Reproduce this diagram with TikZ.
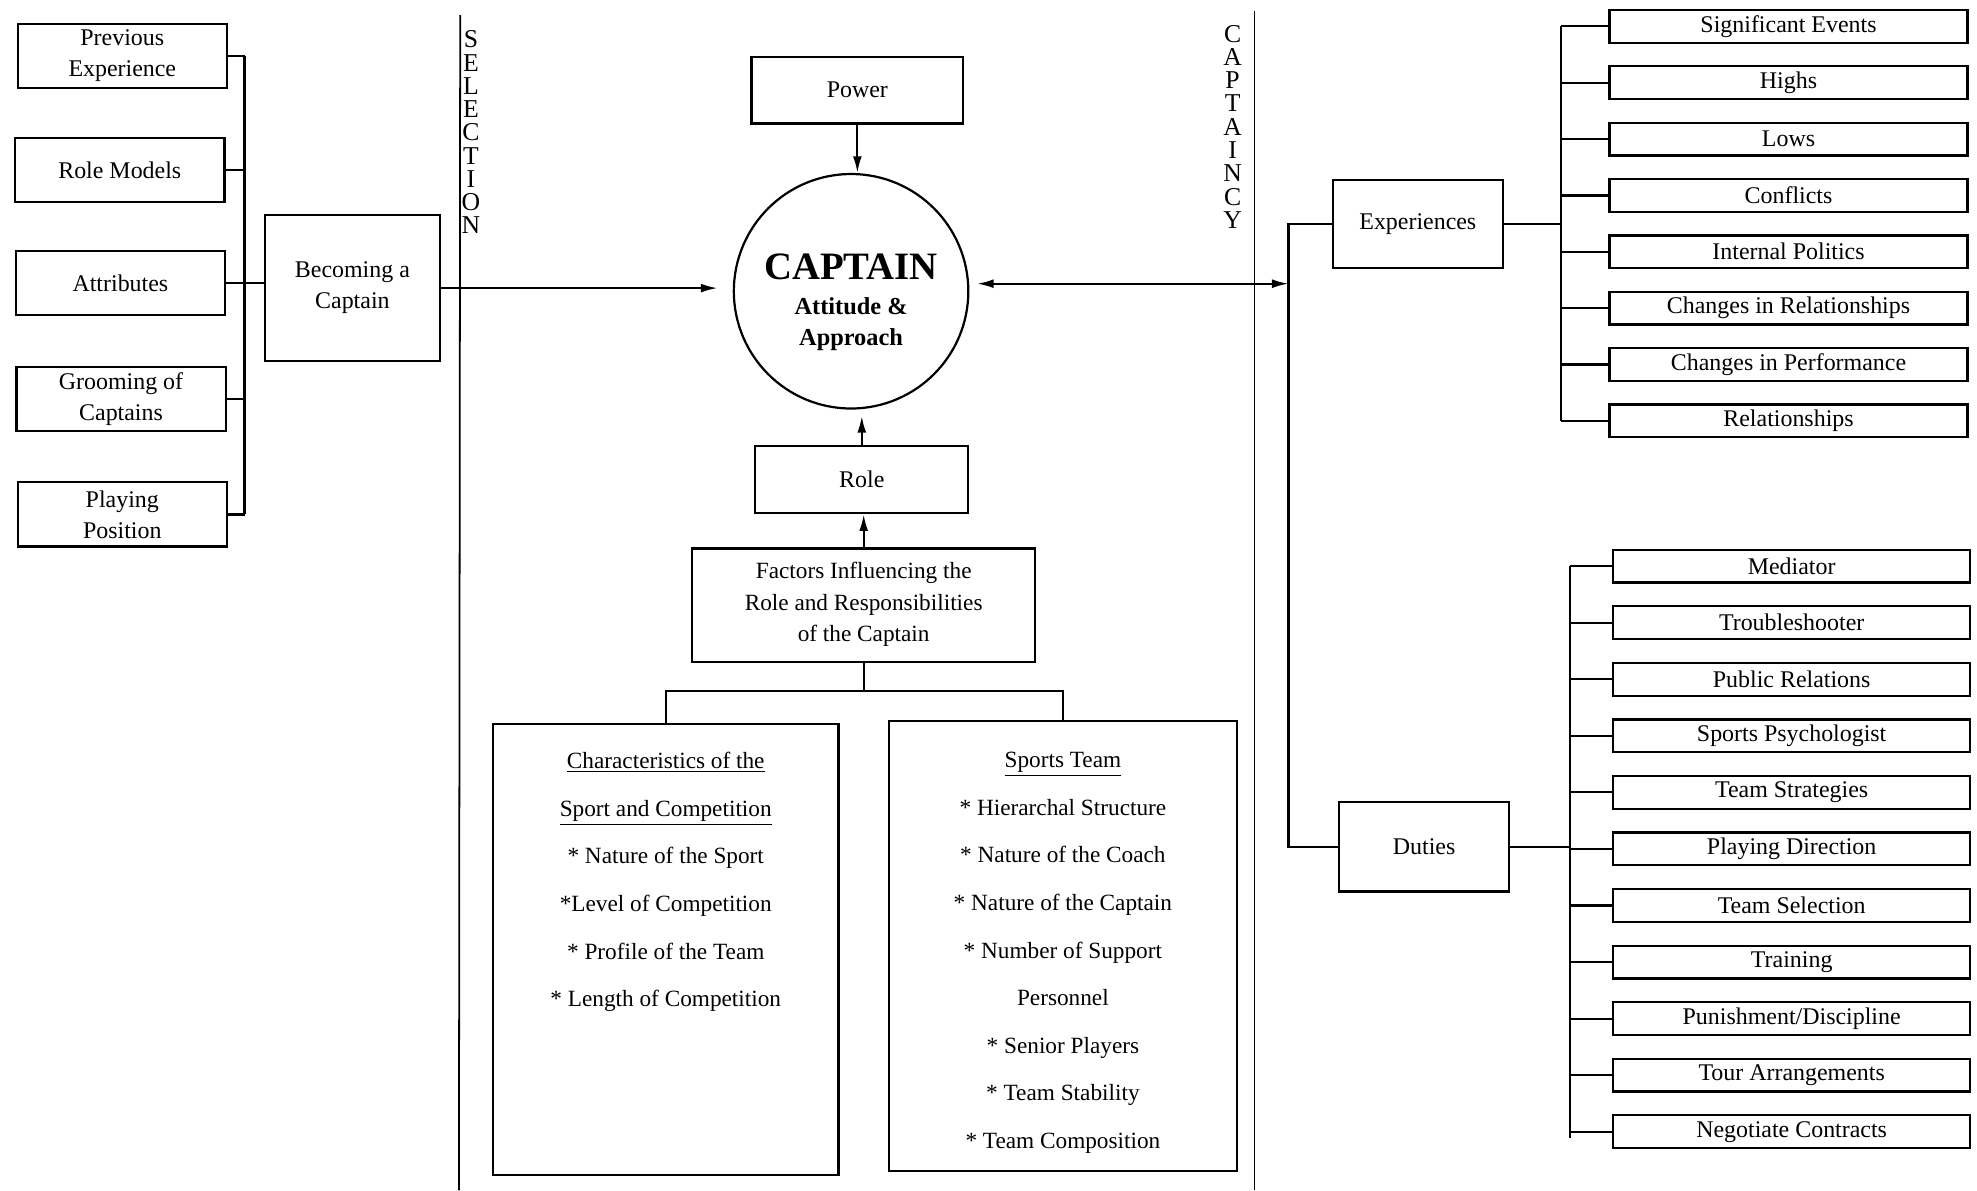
\documentclass[tikz,border=0pt]{standalone}
\usepackage{fontspec}
\setmainfont{Liberation Serif}
\usetikzlibrary{arrows.meta}

\tikzset{
	box/.style={draw, line width=1pt, inner sep=0pt, align=center, font=\fontsize{10.8}{14}\selectfont},
	lbox/.style={box, minimum width=3.32cm, minimum height=1.02cm},
	ebox/.style={box, minimum width=5.68cm, minimum height=0.52cm},
	dbox/.style={box, minimum width=5.66cm, minimum height=0.52cm},
	listbox/.style={draw, line width=1pt, inner sep=0pt},
	listtext/.style={anchor=north, inner sep=0pt, align=center, font=\fontsize{10.5}{21.5}\selectfont},
	divider/.style={line width=0.8pt},
	caps/.style={inner sep=0pt, align=center, font=\fontsize{11.6}{10.5}\selectfont},
	conn/.style={line width=1pt},
	arr/.style={line width=1pt, -{Latex[length=7.5pt,width=4pt]}},
}

\begin{document}
\begin{tikzpicture}[x=0.02cm, y=-0.02cm]
		%%%%% START %%%%%
		\useasboundingbox (0, 0) rectangle (1568, 944);
		
		% dividers
		\coordinate (seltop) at (365, 12);
		\coordinate (selbot) at (364, 944);
		\coordinate (captop) at (995, 9);
		\coordinate (capbot) at (995, 944);
		\draw[divider] (seltop) -- (selbot);
		\draw[divider] (captop) -- (capbot);
		\node[caps] (sellab) at (373.5, 105) {S\\E\\L\\E\\C\\T\\I\\O\\N};
		\node[caps] (caplab) at (977.6, 100.5) {C\\A\\P\\T\\A\\I\\N\\C\\Y};
		
		% selection
		\node[lbox] (prev) at (97, 44.5) {Previous\\Experience};
		\node[lbox] (rolem) at (95, 135) {Role Models};
		\node[lbox] (attr) at (95.5, 224.5) {Attributes};
		\node[lbox] (groom) at (96, 316.5) {Grooming of\\Captains};
		\node[lbox] (play) at (97, 408) {Playing\\Position};
		\node[box, minimum width=2.78cm, minimum height=2.32cm] (becoming) at (279.5, 228.5) {Becoming a\\Captain};
		
		\coordinate (lbus) at (194, 0);
		\draw[conn] (prev.east -| lbus) -- (play.east -| lbus);
		\draw[conn] (prev.east) -- (prev.east -| lbus);
		\draw[conn] (rolem.east) -- (rolem.east -| lbus);
		\draw[conn] (groom.east) -- (groom.east -| lbus);
		\draw[conn] (play.east) -- (play.east -| lbus);
		\draw[conn] (attr.east) -- (becoming.west |- attr.east);
		
		% captain
		\node[draw, circle, line width=1pt, minimum size=3.72cm, inner sep=0pt] (captain) at (675, 231) {};
		\node[align=center, inner sep=0pt, font=\bfseries\fontsize{11}{14.2}\selectfont] (captext) at (675, 240) {{\fontsize{17.5}{20}\selectfont CAPTAIN}\\[1.5pt]Attitude \&\\Approach};
		\node[box, minimum width=3.36cm, minimum height=1.06cm] (power) at (680, 71.5) {Power};
		\node[box, minimum width=3.38cm, minimum height=1.06cm] (role) at (683.5, 380.5) {Role};
		\node[box, minimum width=5.44cm, minimum height=1.8cm, font=\fontsize{10.5}{14.4}\selectfont] (factors) at (685, 480) {Factors Influencing the\\Role and Responsibilities\\of the Captain\rule[-3pt]{0pt}{3pt}};
		
		\draw[arr, shorten >=0.24cm] (becoming.east) -- (becoming.east -| captain.west);
		\draw[arr] (power.south) -- (power.south |- captain.north);
		\draw[arr, shorten >=0.1cm] (role.north) -- (role.north |- captain.south);
		\draw[arr] (factors.north) -- (factors.north |- role.south);
		
		% factors
		\node[listbox, minimum width=5.48cm, minimum height=7.16cm] (sportbox) at (528, 753) {};
		\node[listbox, minimum width=5.52cm, minimum height=7.14cm] (teambox) at (843, 750.5) {};
		\node[listtext] (sporttext) at ([yshift=-0.46cm]sportbox.north) {\underline{Characteristics of the}\\\underline{Sport and Competition}\\{*} Nature of the Sport\\{*}Level of Competition\\{*} Profile of the Team\\{*} Length of Competition};
		\node[listtext] (teamtext) at ([yshift=-0.5cm]teambox.north) {\underline{Sports Team}\\{*} Hierarchal Structure\\{*} Nature of the Coach\\{*} Nature of the Captain\\{*} Number of Support\\Personnel\\{*} Senior Players\\{*} Team Stability\\{*} Team Composition};
		
		\coordinate (fork) at (685, 548);
		\draw[conn] (factors.south) -- (fork);
		\draw[conn] (sportbox.north) |- (fork) -| (teambox.north);
		
		% captaincy
		\node[box, minimum width=2.7cm, minimum height=1.4cm] (exper) at (1124.5, 177.5) {Experiences};
		\node[box, minimum width=2.7cm, minimum height=1.42cm] (duties) at (1129.5, 671.5) {Duties};
		\coordinate (rspine) at (1022, 225);
		\draw[conn] (exper.west) -| (rspine) |- (duties.west);
		\draw[line width=1pt, {Latex[length=7.5pt,width=4pt]}-{Latex[length=7.5pt,width=4pt]}, shorten <=0.12cm] (rspine -| captain.east) -- (rspine);
		
		\node[ebox] (exp1) at (1418.5, 20.9) {Significant Events};
		\node[ebox] (exp2) at (1418.5, 65.6) {Highs};
		\node[ebox] (exp3) at (1418.5, 110.3) {Lows};
		\node[ebox] (exp4) at (1418.5, 155) {Conflicts};
		\node[ebox] (exp5) at (1418.5, 199.7) {Internal Politics};
		\node[ebox] (exp6) at (1418.5, 244.4) {Changes in Relationships};
		\node[ebox] (exp7) at (1418.5, 289.1) {Changes in Performance};
		\node[ebox] (exp8) at (1418.5, 333.8) {Relationships};
		
		\coordinate (ebus) at (1238, 0);
		\draw[conn] (exp1.west -| ebus) -- (exp8.west -| ebus);
		\draw[conn] (exper.east) -- (exper.east -| ebus);
		\draw[conn] (exp1.west -| ebus) -- (exp1.west);
		\draw[conn] (exp2.west -| ebus) -- (exp2.west);
		\draw[conn] (exp3.west -| ebus) -- (exp3.west);
		\draw[conn] (exp4.west -| ebus) -- (exp4.west);
		\draw[conn] (exp5.west -| ebus) -- (exp5.west);
		\draw[conn] (exp6.west -| ebus) -- (exp6.west);
		\draw[conn] (exp7.west -| ebus) -- (exp7.west);
		\draw[conn] (exp8.west -| ebus) -- (exp8.west);
		
		\node[dbox] (duty1) at (1421, 449) {Mediator};
		\node[dbox] (duty2) at (1421, 493.9) {Troubleshooter};
		\node[dbox] (duty3) at (1421, 538.7) {Public Relations};
		\node[dbox] (duty4) at (1421, 583.6) {Sports Psychologist};
		\node[dbox] (duty5) at (1421, 628.4) {Team Strategies};
		\node[dbox] (duty6) at (1421, 673.3) {Playing Direction};
		\node[dbox] (duty7) at (1421, 718.2) {Team Selection};
		\node[dbox] (duty8) at (1421, 763) {Training};
		\node[dbox] (duty9) at (1421, 807.9) {Punishment/Discipline};
		\node[dbox] (duty10) at (1421, 852.7) {Tour Arrangements};
		\node[dbox] (duty11) at (1421, 897.6) {Negotiate Contracts};
		
		\coordinate (dbus) at (1245, 0);
		\draw[conn] (duty1.west -| dbus) -- ([yshift=-0.1cm]duty11.west -| dbus);
		\draw[conn] (duties.east) -- (duties.east -| dbus);
		\draw[conn] (duty1.west -| dbus) -- (duty1.west);
		\draw[conn] (duty2.west -| dbus) -- (duty2.west);
		\draw[conn] (duty3.west -| dbus) -- (duty3.west);
		\draw[conn] (duty4.west -| dbus) -- (duty4.west);
		\draw[conn] (duty5.west -| dbus) -- (duty5.west);
		\draw[conn] (duty6.west -| dbus) -- (duty6.west);
		\draw[conn] (duty7.west -| dbus) -- (duty7.west);
		\draw[conn] (duty8.west -| dbus) -- (duty8.west);
		\draw[conn] (duty9.west -| dbus) -- (duty9.west);
		\draw[conn] (duty10.west -| dbus) -- (duty10.west);
		\draw[conn] (duty11.west -| dbus) -- (duty11.west);
		%%%%% END %%%%%
\end{tikzpicture}
\end{document}
